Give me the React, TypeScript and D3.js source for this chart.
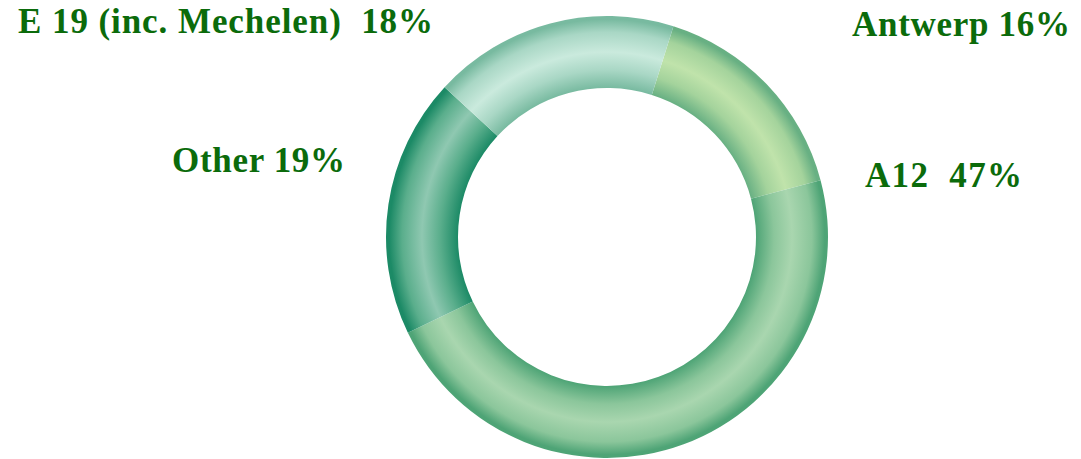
import React from "react";
import * as d3 from "d3";

const categories = ["Antwerp", "A12", "Other", "E 19 (inc. Mechelen)"];
const values = [16, 47, 19, 18];
const labelTexts = ["Antwerp 16%", "A12  47%", "Other 19%", "E 19 (inc. Mechelen)  18%"];

// per-segment colours: [edge, mid, highlight]
const segColors = [
  ["#68b083", "#a4d39c", "#c0e3ab"],
  ["#4ea476", "#8bc69b", "#a9d6af"],
  ["#1c8a66", "#5aae8c", "#8fc8b1"],
  ["#78baa0", "#a9d7c5", "#caeadd"],
];

const W = 1081;
const H = 459;
const cx = 607;
const cy = 237;
const rOuter = 221;
const rInner = 149;
const startDeg = 17.5;

const labelPos: [number, number, number][] = [
  [852, 36, 218],
  [865, 187, 157],
  [172, 172, 173],
  [18, 33, 415],
];

export default function App() {
  const pie = d3
    .pie<number>()
    .sort(null)
    .value((d) => d)
    .startAngle((startDeg * Math.PI) / 180)
    .endAngle((startDeg * Math.PI) / 180 + 2 * Math.PI);
  const arcs = pie(values);
  const arc = d3.arc<d3.PieArcDatum<number>>().innerRadius(rInner).outerRadius(rOuter);
  const f = rInner / rOuter;
  const mid = (f + 1) / 2;

  return (
    <svg
      width={W}
      height={H}
      style={{ position: "fixed", left: 0, top: 0, background: "#ffffff" }}
    >
      <defs>
        {segColors.map((c, i) => (
          <radialGradient
            key={i}
            id={`g${i}`}
            gradientUnits="userSpaceOnUse"
            cx={0}
            cy={0}
            r={rOuter}
          >
            <stop offset={f} stopColor={c[0]} />
            <stop offset={f + (mid - f) * 0.5} stopColor={c[1]} />
            <stop offset={mid} stopColor={c[2]} />
            <stop offset={mid + (1 - mid) * 0.55} stopColor={c[1]} />
            <stop offset={0.985} stopColor={c[0]} />
            <stop offset={1} stopColor={c[0]} />
          </radialGradient>
        ))}
      </defs>
      <g transform={`translate(${cx},${cy})`}>
        {arcs.map((a, i) => (
          <path key={categories[i]} d={arc(a) || ""} fill={`url(#g${i})`} />
        ))}
      </g>
      {labelTexts.map((t, i) => (
        <text
          key={t}
          x={labelPos[i][0]}
          y={labelPos[i][1]}
          textLength={labelPos[i][2]}
          lengthAdjust="spacing"
          fontFamily="'Liberation Serif', 'Times New Roman', serif"
          fontWeight="bold"
          fontSize={35}
          fill="#0b6b0b"
          style={{ whiteSpace: "pre" }}
        >
          {t}
        </text>
      ))}
    </svg>
  );
}
